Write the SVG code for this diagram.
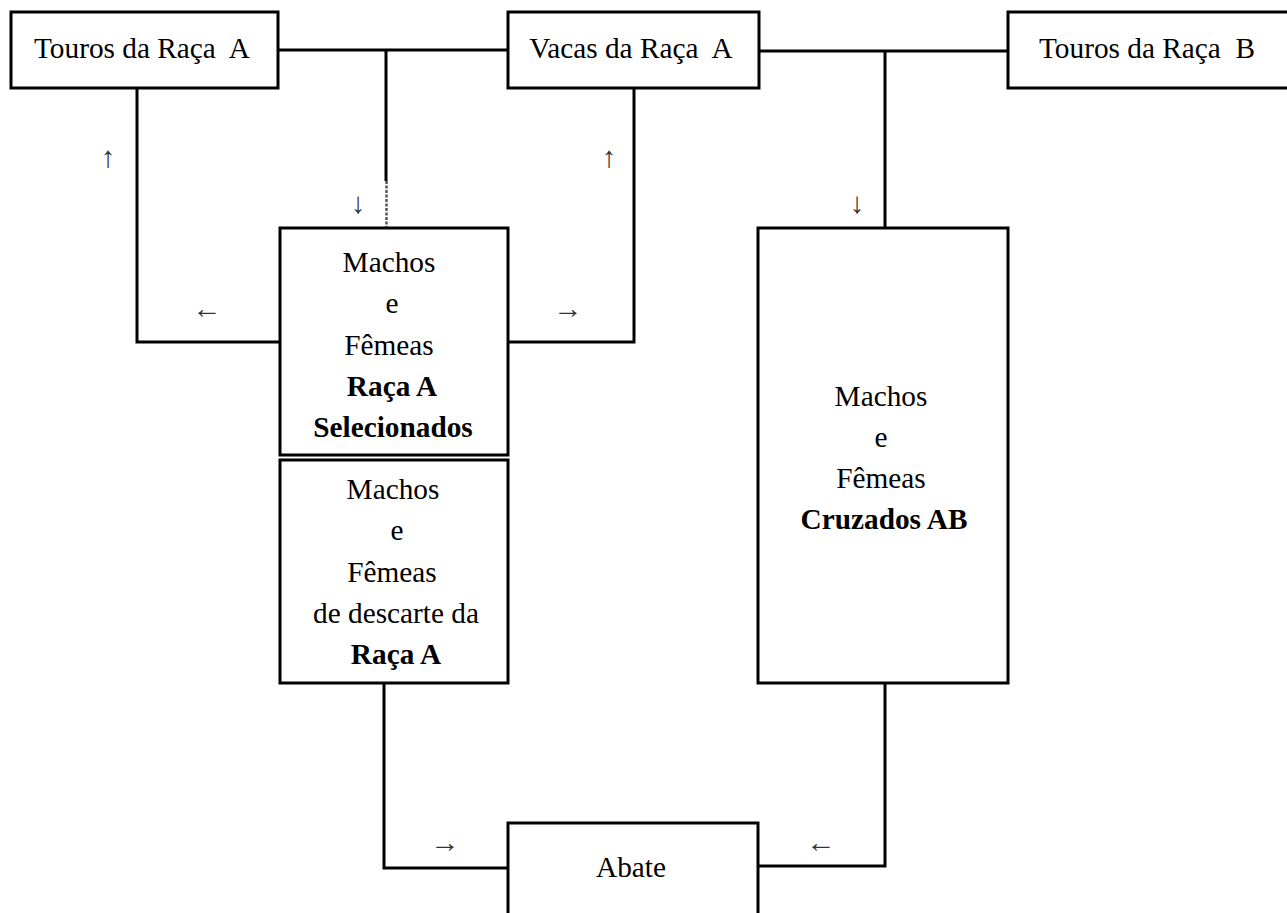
<svg xmlns="http://www.w3.org/2000/svg" width="1287" height="913" viewBox="0 0 1287 913">
  <style>
    .box { fill: #ffffff; stroke: #000000; stroke-width: 3; }
    .wire { fill: none; stroke: #000000; stroke-width: 3; }
    .faint { fill: none; stroke: #555555; stroke-width: 2.5; stroke-dasharray: 3 1.5; }
    .lbl { font-family: "Liberation Serif", "Times New Roman", serif; font-size: 29.3px; fill: #000000; text-anchor: middle; }
    .b { font-weight: bold; }
    .arw { font-family: "Liberation Serif", "Times New Roman", serif; font-size: 29.3px; fill: #333333; text-anchor: middle; }
  </style>

  <rect width="1287" height="913" fill="#ffffff"/>

  <!-- connectors -->
  <g id="connectors">
    <line class="wire" x1="278" y1="50" x2="508" y2="50"/>
    <line class="wire" x1="386" y1="50" x2="386" y2="181"/>
    <line class="faint" x1="386.5" y1="181" x2="386.5" y2="228"/>
    <line class="wire" x1="759" y1="51" x2="1008" y2="51"/>
    <line class="wire" x1="885" y1="51" x2="885" y2="228"/>
    <polyline class="wire" points="137,88 137,342 280,342"/>
    <polyline class="wire" points="508,342 634,342 634,88"/>
    <polyline class="wire" points="384,683 384,868 508,868"/>
    <polyline class="wire" points="885,683 885,866 758,866"/>

    <!-- flow arrows -->
    <text class="arw" x="108" y="167">↑</text>
    <text class="arw" x="358" y="213">↓</text>
    <text class="arw" x="609" y="167">↑</text>
    <text class="arw" x="857" y="213">↓</text>
    <text class="arw" x="207" y="318">←</text>
    <text class="arw" x="568" y="318">→</text>
    <text class="arw" x="445" y="852">→</text>
    <text class="arw" x="821" y="852">←</text>
  </g>

  <g id="touros-a">
    <rect class="box" x="11" y="12" width="267" height="76"/>
    <text class="lbl" x="142" y="58" xml:space="preserve">Touros da Raça  A</text>
  </g>

  <g id="vacas-a">
    <rect class="box" x="508" y="12" width="251" height="76"/>
    <text class="lbl" x="631" y="58" xml:space="preserve">Vacas da Raça  A</text>
  </g>

  <g id="touros-b">
    <rect class="box" x="1008" y="12" width="290" height="76"/>
    <text class="lbl" x="1147" y="58" xml:space="preserve">Touros da Raça  B</text>
  </g>

  <g id="selecionados">
    <rect class="box" x="280" y="228" width="228" height="227"/>
    <text class="lbl" x="389" y="272">Machos</text>
    <text class="lbl" x="392" y="313">e</text>
    <text class="lbl" x="389" y="355">Fêmeas</text>
    <text class="lbl b" x="392" y="396">Raça A</text>
    <text class="lbl b" x="393" y="437">Selecionados</text>
  </g>

  <g id="descarte">
    <rect class="box" x="280" y="460" width="228" height="223"/>
    <text class="lbl" x="393" y="499">Machos</text>
    <text class="lbl" x="397" y="540">e</text>
    <text class="lbl" x="392" y="582">Fêmeas</text>
    <text class="lbl" x="396" y="623">de descarte da</text>
    <text class="lbl b" x="396" y="664">Raça A</text>
  </g>

  <g id="cruzados">
    <rect class="box" x="758" y="228" width="250" height="455"/>
    <text class="lbl" x="881" y="406">Machos</text>
    <text class="lbl" x="881" y="447">e</text>
    <text class="lbl" x="881" y="488">Fêmeas</text>
    <text class="lbl b" x="884" y="529">Cruzados AB</text>
  </g>

  <g id="abate">
    <rect class="box" x="508" y="823" width="250" height="110"/>
    <text class="lbl" x="631" y="877">Abate</text>
  </g>
</svg>
